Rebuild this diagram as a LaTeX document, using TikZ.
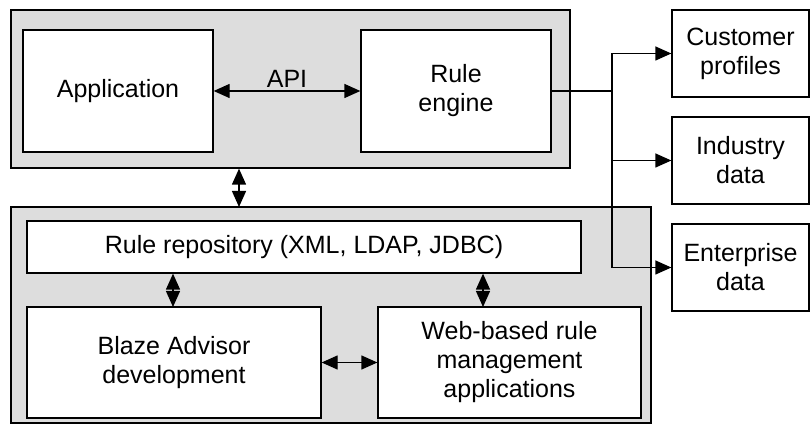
\documentclass[tikz,border=0pt]{standalone}
\usepackage{fontspec}
\setmainfont{Liberation Sans}
\usetikzlibrary{arrows.meta}
\definecolor{panelgray}{RGB}{221,221,221}
\begin{document}
\begin{tikzpicture}[x=1pt,y=1pt,line width=1.3pt,
		font=\fontsize{25}{29}\selectfont,
		box/.style={draw,fill=white,align=center,inner sep=0pt},
		panel/.style={draw,fill=panelgray,inner sep=0pt},
		both/.style={{Triangle[length=16pt,width=14pt]}-{Triangle[length=16pt,width=14pt]}},
		feed/.style={-{Triangle[length=16pt,width=14pt]}}]
		\useasboundingbox (0,0) rectangle (810,425);
		% panels
		\node [panel,minimum width=559,minimum height=158] (top) at (290.5,336) {};
		\node [panel,minimum width=640,minimum height=216] (bottom) at (331,110) {};
		% boxes
		\node [box,minimum width=190,minimum height=122] (app) at (118,334) {Application};
		\node [box,minimum width=190,minimum height=122] (engine) at (456,334) {Rule\\engine};
		\node [box,minimum width=554,minimum height=52] (repo) at (304,178) {Rule repository (XML, LDAP, JDBC)};
		\node [box,minimum width=294,minimum height=111] (blaze) at (174,62.5) {Blaze Advisor\\development};
		\node [box,minimum width=263,minimum height=111] (web) at (509.5,62.5) {Web-based rule\\management\\applications};
		\node [box,minimum width=137,minimum height=87] (cust) at (740.5,371.5) {Customer\\profiles};
		\node [box,minimum width=137,minimum height=87] (ind) at (740.5,264.5) {Industry\\data};
		\node [box,minimum width=137,minimum height=87] (ent) at (740.5,157.5) {Enterprise\\data};
		% links
		\draw [both] (app.east) to node[above=0pt] (api) {API} (engine.west);
		\coordinate (lk) at (239,218);
		\draw [both] (lk) to (lk |- top.south);
		\coordinate (bt) at (173,118);
		\draw [both] (bt) to (bt |- repo.south);
		\coordinate (wt) at (483,118);
		\draw [both] (wt) to (wt |- repo.south);
		\draw [both] (blaze.east) to (web.west);
		% feeds
		\coordinate (J) at (612,334);
		\draw (engine.east) to (J);
		\draw [feed] (J) |- (cust.west);
		\draw [feed] (J) |- (ind.west);
		\draw [feed] (J) |- (ent.west);
	\end{tikzpicture}
\end{document}
